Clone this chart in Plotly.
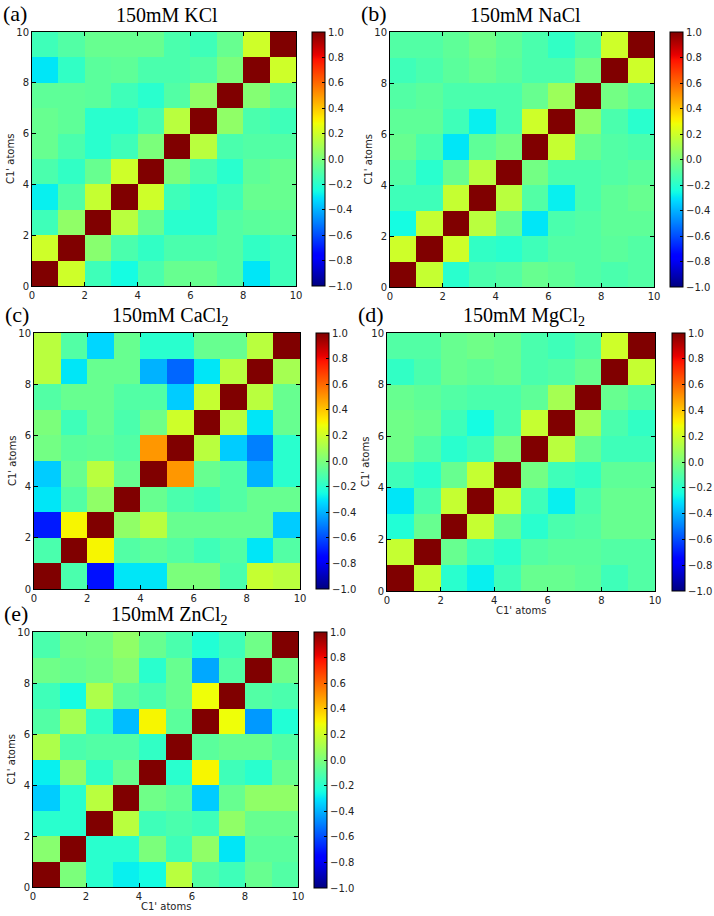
import plotly.graph_objects as go
import numpy as np

W, H = 714, 916

ATOM_EDGES = list(range(11))
TICKS = [0, 2, 4, 6, 8, 10]
CB_TICKS = [-1.0, -0.8, -0.6, -0.4, -0.2, 0.0, 0.2, 0.4, 0.6, 0.8, 1.0]
LETTERS = ["(a)", "(b)", "(c)", "(d)", "(e)"]
TITLES = ["150mM KCl", "150mM NaCl", "150mM CaCl<sub>2</sub>",
          "150mM MgCl<sub>2</sub>", "150mM ZnCl<sub>2</sub>"]
AXIS_LABEL = "C1' atoms"

# rows listed from y=0 (bottom) to y=9 (top); columns x=0..9
KCL = [
    [1.00, 0.20, -0.15, -0.25, -0.12, -0.05, -0.05, -0.10, -0.30, -0.15],
    [0.20, 1.00, 0.03, -0.12, -0.18, -0.12, -0.12, -0.10, -0.18, -0.15],
    [-0.15, 0.05, 1.00, 0.15, -0.05, -0.20, -0.20, -0.10, -0.08, -0.07],
    [-0.28, -0.10, 0.18, 1.00, 0.20, -0.15, -0.20, -0.15, -0.05, -0.05],
    [-0.12, -0.18, -0.05, 0.20, 1.00, 0.00, -0.12, -0.20, -0.07, -0.05],
    [-0.05, -0.12, -0.20, -0.15, 0.00, 1.00, 0.15, -0.12, -0.10, -0.10],
    [-0.05, -0.07, -0.20, -0.20, -0.12, 0.15, 1.00, 0.05, -0.12, -0.15],
    [-0.07, -0.07, -0.08, -0.15, -0.20, -0.10, 0.05, 1.00, 0.02, -0.07],
    [-0.30, -0.18, -0.08, -0.07, -0.12, -0.12, -0.10, 0.00, 1.00, 0.20],
    [-0.15, -0.10, -0.05, -0.05, -0.05, -0.12, -0.15, -0.05, 0.20, 1.00],
]
NACL = [
    [1.00, 0.18, -0.20, -0.12, -0.10, -0.05, -0.07, -0.10, -0.12, -0.10],
    [0.20, 1.00, 0.20, -0.18, -0.20, -0.15, -0.10, -0.10, -0.08, -0.10],
    [-0.25, 0.18, 1.00, 0.15, -0.05, -0.30, -0.12, -0.10, -0.07, -0.07],
    [-0.15, -0.15, 0.18, 1.00, 0.15, -0.10, -0.28, -0.12, -0.07, -0.05],
    [-0.10, -0.20, -0.05, 0.15, 1.00, -0.02, -0.12, -0.12, -0.10, -0.08],
    [-0.05, -0.12, -0.30, -0.07, -0.02, 1.00, 0.18, -0.05, -0.10, -0.12],
    [-0.07, -0.07, -0.15, -0.28, -0.12, 0.20, 1.00, 0.05, -0.12, -0.20],
    [-0.10, -0.08, -0.12, -0.12, -0.12, -0.05, 0.08, 1.00, -0.02, -0.08],
    [-0.15, -0.12, -0.08, -0.05, -0.08, -0.12, -0.12, -0.02, 1.00, 0.20],
    [-0.10, -0.10, -0.07, -0.03, -0.07, -0.12, -0.18, -0.10, 0.20, 1.00],
]
CACL2 = [
    [1.00, -0.12, -0.72, -0.30, -0.30, 0.00, 0.00, -0.12, 0.18, 0.15],
    [-0.12, 1.00, 0.30, -0.10, -0.07, -0.10, -0.15, -0.10, -0.30, -0.10],
    [-0.70, 0.30, 1.00, 0.05, 0.15, -0.05, -0.05, -0.05, -0.05, -0.35],
    [-0.30, -0.10, 0.05, 1.00, -0.05, -0.12, -0.15, -0.10, -0.05, -0.05],
    [-0.35, -0.05, 0.15, -0.05, 1.00, 0.50, -0.05, -0.10, -0.40, -0.20],
    [-0.02, -0.08, -0.07, -0.10, 0.50, 1.00, 0.15, -0.35, -0.50, -0.20],
    [0.00, -0.15, -0.05, -0.12, -0.03, 0.20, 1.00, 0.15, -0.30, -0.05],
    [-0.10, -0.05, -0.05, -0.10, -0.10, -0.35, 0.18, 1.00, 0.15, -0.05],
    [0.15, -0.30, -0.05, -0.05, -0.40, -0.55, -0.30, 0.15, 1.00, 0.10],
    [0.15, -0.10, -0.33, -0.05, -0.20, -0.20, -0.05, -0.05, 0.15, 1.00],
]
MGCL2 = [
    [1.00, 0.18, -0.20, -0.28, -0.15, -0.05, -0.05, -0.07, -0.15, -0.10],
    [0.18, 1.00, -0.05, -0.15, -0.20, -0.10, -0.08, -0.08, -0.10, -0.10],
    [-0.22, -0.05, 1.00, 0.18, -0.05, -0.20, -0.12, -0.10, -0.05, -0.05],
    [-0.30, -0.12, 0.18, 1.00, 0.18, -0.15, -0.28, -0.12, -0.05, -0.05],
    [-0.15, -0.20, -0.05, 0.18, 1.00, -0.02, -0.15, -0.18, -0.07, -0.07],
    [-0.03, -0.10, -0.20, -0.15, 0.00, 1.00, 0.15, -0.05, -0.15, -0.15],
    [-0.03, -0.05, -0.15, -0.25, -0.12, 0.18, 1.00, 0.10, -0.12, -0.18],
    [-0.05, -0.07, -0.10, -0.12, -0.12, -0.07, 0.10, 1.00, -0.05, -0.10],
    [-0.18, -0.12, -0.05, -0.07, -0.05, -0.12, -0.10, -0.05, 1.00, 0.18],
    [-0.10, -0.10, -0.05, -0.03, -0.05, -0.12, -0.15, -0.10, 0.20, 1.00],
]
ZNCL2 = [
    [1.00, 0.00, -0.20, -0.28, -0.25, 0.15, -0.10, -0.15, -0.05, -0.10],
    [0.03, 1.00, -0.20, -0.20, 0.00, -0.15, 0.05, -0.30, -0.08, -0.08],
    [-0.20, -0.20, 1.00, 0.15, -0.15, -0.12, -0.15, 0.05, -0.05, -0.05],
    [-0.35, -0.20, 0.15, 1.00, -0.03, -0.07, -0.35, -0.05, 0.05, 0.05],
    [-0.28, 0.05, -0.18, -0.05, 1.00, -0.20, 0.30, -0.15, -0.20, -0.05],
    [0.12, -0.12, -0.10, -0.10, -0.18, 1.00, -0.08, -0.05, -0.05, -0.10],
    [-0.10, 0.10, -0.18, -0.38, 0.30, -0.08, 1.00, 0.28, -0.45, -0.22],
    [-0.15, -0.25, 0.12, -0.07, -0.12, -0.05, 0.28, 1.00, -0.10, -0.12],
    [-0.03, -0.05, -0.03, 0.02, -0.20, -0.05, -0.42, -0.10, 1.00, -0.03],
    [-0.12, -0.03, -0.02, 0.05, -0.05, -0.12, -0.22, -0.15, -0.03, 1.00],
]
MATRICES = [KCL, NACL, CACL2, MGCL2, ZNCL2]


# matplotlib "jet" colormap rebuilt from its segment data
def _seg(pts, t):
    xs = [p[0] for p in pts]
    ys = [p[1] for p in pts]
    return float(np.interp(t, xs, ys))


RED = [(0, 0), (0.35, 0), (0.66, 1), (0.89, 1), (1, 0.5)]
GREEN = [(0, 0), (0.125, 0), (0.375, 1), (0.64, 1), (0.91, 0), (1, 0)]
BLUE = [(0, 0.5), (0.11, 1), (0.34, 1), (0.65, 0), (1, 0)]
JET = []
for t in np.linspace(0, 1, 101):
    r, g, b = (_seg(RED, t), _seg(GREEN, t), _seg(BLUE, t))
    JET.append([float(t), f"rgb({round(r*255)},{round(g*255)},{round(b*255)})"])

# panel boxes in pixels: (left, right, top, bottom), colorbar (left, right, top, bottom)
BOXES = [
    ((32, 296, 32, 286), (312, 325, 32, 286)),
    ((390, 654, 32, 287), (670, 683, 32, 287)),
    ((34, 300, 333, 589), (316, 329, 333, 589)),
    ((387, 655, 333, 591), (672, 685, 333, 591)),
    ((33, 298, 632, 887), (314, 327, 632, 888)),
]
SHOW_XLABEL = [False, False, False, True, True]


def fx(p):
    return p / W


def fy(p):
    return 1 - p / H


fig = go.Figure()
TICKFONT = dict(family="DejaVu Sans", size=10, color="#222222")
LABELFONT = dict(family="DejaVu Sans", size=10, color="#222222")

for i, (mat, (hb, cb)) in enumerate(zip(MATRICES, BOXES)):
    n = i + 1
    xa = "x" if n == 1 else f"x{n}"
    ya = "y" if n == 1 else f"y{n}"
    cl, cr, ct, cbm = cb
    fig.add_trace(go.Heatmap(
        z=mat, x=ATOM_EDGES, y=ATOM_EDGES, xaxis=xa, yaxis=ya,
        zmin=-1, zmax=1, colorscale=JET, hoverinfo="z",
        colorbar=dict(
            x=fx(cl), xanchor="left", xref="paper",
            y=fy(cbm), yanchor="bottom", yref="paper",
            len=(cbm - ct) / H, lenmode="fraction",
            thickness=cr - cl, thicknessmode="pixels",
            outlinewidth=1, outlinecolor="black",
            tickvals=CB_TICKS, ticktext=[f"{v:.1f}".replace("-", "\u2212") for v in CB_TICKS],
            ticks="inside", ticklen=3, tickcolor="black",
            tickfont=TICKFONT, xpad=0, ypad=0,
        ),
    ))
    l, r, t, b = hb
    axcommon = dict(showline=True, mirror="ticks", linecolor="black", linewidth=1,
                    ticks="inside", ticklen=4, tickcolor="black",
                    tickvals=TICKS, ticktext=[str(v) for v in TICKS],
                    tickfont=TICKFONT, showgrid=False, zeroline=False,
                    range=[0, 10], fixedrange=True, automargin=False)
    xkey = "xaxis" if n == 1 else f"xaxis{n}"
    ykey = "yaxis" if n == 1 else f"yaxis{n}"
    fig.update_layout(**{
        xkey: dict(domain=[fx(l), fx(r)], anchor=ya, **axcommon),
        ykey: dict(domain=[fy(b), fy(t)], anchor=xa, **axcommon),
    })
    # axis labels
    fig.add_annotation(text=AXIS_LABEL, xref="paper", yref="paper",
                       x=fx(l - 22), y=fy((t + b) / 2), xanchor="center", yanchor="middle",
                       textangle=-90, showarrow=False, font=LABELFONT)
    if SHOW_XLABEL[i]:
        fig.add_annotation(text=AXIS_LABEL, xref="paper", yref="paper",
                           x=fx((l + r) / 2), y=fy(b + 19), xanchor="center", yanchor="middle",
                           showarrow=False, font=LABELFONT)
    # panel letter and title
    fig.add_annotation(text=LETTERS[i], xref="paper", yref="paper",
                       x=fx(l - 31), y=fy(t - 19), xanchor="left", yanchor="middle",
                       showarrow=False, font=dict(family="Liberation Serif", size=22, color="black"))
    fig.add_annotation(text=TITLES[i], xref="paper", yref="paper",
                       x=fx((l + r) / 2 + 3), y=fy(t - 17), xanchor="center", yanchor="middle",
                       showarrow=False, font=dict(family="Liberation Serif", size=20, color="black"))

fig.update_layout(width=W, height=H, margin=dict(l=0, r=0, t=0, b=0, autoexpand=False),
                  paper_bgcolor="white", plot_bgcolor="white", showlegend=False)
fig.write_html("out.html", config={"displayModeBar": False},
               post_script="document.body.style.margin='0px';document.body.style.padding='0px';")
